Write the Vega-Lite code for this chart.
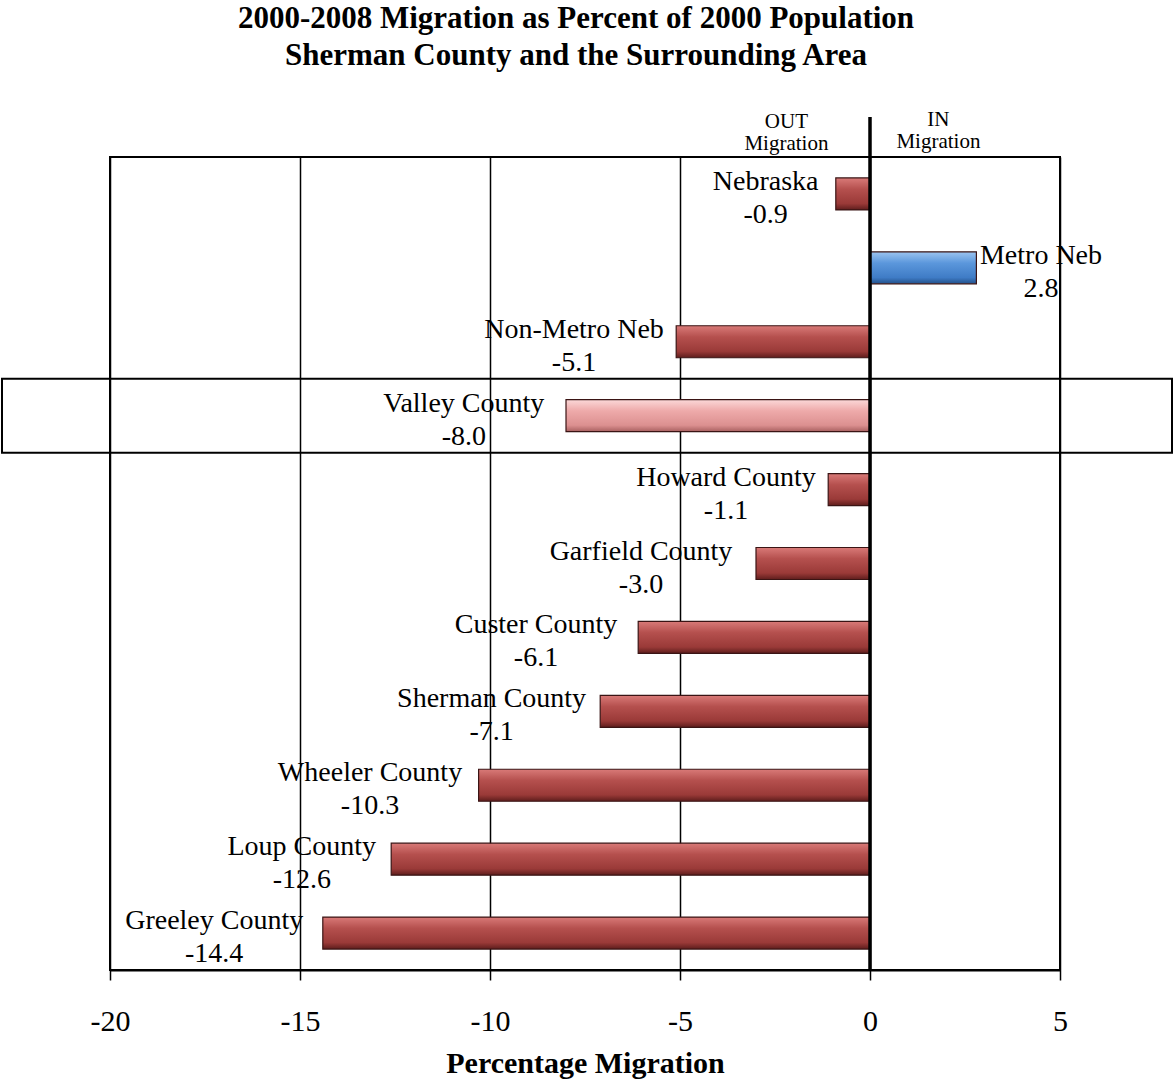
{
  "$schema": "https://vega.github.io/schema/vega-lite/v6.json",
  "autosize": "none",
  "width": 950,
  "height": 813,
  "padding": {"left": 110, "top": 157, "right": 114, "bottom": 112},
  "background": "white",
  "config": {
    "view": {"stroke": "black", "strokeWidth": 2},
    "font": "Liberation Serif",
    "locale": {"number": {"decimal": ".", "thousands": ",", "grouping": [3], "currency": ["$", ""], "minus": "-"}}
  },
  "title": {
    "text": ["2000-2008 Migration  as Percent of 2000 Population", "Sherman County and the Surrounding Area"],
    "font": "Liberation Serif",
    "fontSize": 31,
    "fontWeight": "bold",
    "color": "black",
    "anchor": "middle",
    "dx": -9,
    "offset": 37,
    "lineHeight": 37
  },
  "data": {
    "values": [
      {"name": "Nebraska", "value": -0.9, "group": "out"},
      {"name": "Metro Neb", "value": 2.8, "group": "in"},
      {"name": "Non-Metro Neb", "value": -5.1, "group": "out"},
      {"name": "Valley County", "value": -8.0, "group": "hl"},
      {"name": "Howard County", "value": -1.1, "group": "out"},
      {"name": "Garfield County", "value": -3.0, "group": "out"},
      {"name": "Custer County", "value": -6.1, "group": "out"},
      {"name": "Sherman County", "value": -7.1, "group": "out"},
      {"name": "Wheeler County", "value": -10.3, "group": "out"},
      {"name": "Loup County", "value": -12.6, "group": "out"},
      {"name": "Greeley County", "value": -14.4, "group": "out"}
    ]
  },
  "encoding": {
    "y": {
      "field": "name",
      "type": "nominal",
      "sort": null,
      "axis": null,
      "scale": {"paddingInner": 0, "paddingOuter": 0}
    }
  },
  "layer": [
    {
      "mark": {"type": "bar", "size": 32, "stroke": "#3a1414", "strokeWidth": 1.2},
      "encoding": {
        "x": {
          "field": "value",
          "type": "quantitative",
          "scale": {"domain": [-20, 5], "nice": false, "zero": false},
          "axis": {
            "values": [-20, -15, -10, -5, 0, 5],
            "format": "d",
            "grid": true,
            "gridColor": "black",
            "gridWidth": 1.5,
            "gridOpacity": 1,
            "domainColor": "black",
            "domainWidth": 2,
            "tickColor": "black",
            "tickWidth": 1.5,
            "tickSize": 10,
            "labelFont": "Liberation Serif",
            "labelFontSize": 30,
            "labelColor": "black",
            "labelPadding": 26,
            "labelFlush": false,
            "title": "Percentage Migration",
            "titleFont": "Liberation Serif",
            "titleFontSize": 30,
            "titleFontWeight": "bold",
            "titleColor": "black",
            "titlePadding": 12
          }
        },
        "fill": {
          "condition": [
            {"test": "datum.group === 'in'", "value": {"gradient": "linear", "x1": 0, "y1": 0, "x2": 0, "y2": 1, "stops": [{"offset": 0, "color": "#9cc4f0"}, {"offset": 0.35, "color": "#5b97dc"}, {"offset": 0.8, "color": "#3f7cc6"}, {"offset": 1, "color": "#23518a"}]}},
            {"test": "datum.group === 'hl'", "value": {"gradient": "linear", "x1": 0, "y1": 0, "x2": 0, "y2": 1, "stops": [{"offset": 0, "color": "#fbd8d8"}, {"offset": 0.35, "color": "#eeaaaa"}, {"offset": 0.8, "color": "#dc9090"}, {"offset": 1, "color": "#a86060"}]}}
          ],
          "value": {"gradient": "linear", "x1": 0, "y1": 0, "x2": 0, "y2": 1, "stops": [{"offset": 0, "color": "#d97a78"}, {"offset": 0.35, "color": "#b5504e"}, {"offset": 0.8, "color": "#9a3a38"}, {"offset": 1, "color": "#5e1d1c"}]}
        }
      }
    },
    {
      "mark": {"type": "rect", "x": -108, "x2": 1062, "fill": "transparent", "stroke": "black", "strokeWidth": 2},
      "transform": [{"filter": "datum.group === 'hl'"}],
      "encoding": {}
    },
    {
      "mark": {"type": "rule", "y": -40, "y2": 813, "stroke": "black", "strokeWidth": 3.5},
      "data": {"values": [{"zero": 0}]},
      "encoding": {"x": {"field": "zero", "type": "quantitative"}, "y": null}
    },
    {
      "mark": {"type": "text", "text": ["OUT", "Migration"], "y": -46, "baseline": "top", "align": "center", "fontSize": 21, "lineHeight": 22, "font": "Liberation Serif", "color": "black"},
      "data": {"values": [{"pos": -2.2}]},
      "encoding": {"x": {"field": "pos", "type": "quantitative"}, "y": null}
    },
    {
      "mark": {"type": "text", "text": ["IN", "Migration"], "y": -48, "baseline": "top", "align": "center", "fontSize": 21, "lineHeight": 22, "font": "Liberation Serif", "color": "black"},
      "data": {"values": [{"pos": 1.8}]},
      "encoding": {"x": {"field": "pos", "type": "quantitative"}, "y": null}
    },
    {
      "transform": [{"calculate": "datum.value < 0 ? datum.value - (19 + 6.4 * length(datum.name)) / 38 : datum.value + (7 + 6.4 * length(datum.name)) / 38", "as": "lx"}],
      "mark": {"type": "text", "align": "center", "baseline": "middle", "dy": -12, "fontSize": 28, "font": "Liberation Serif", "color": "black"},
      "encoding": {"x": {"field": "lx", "type": "quantitative"}, "text": {"field": "name"}}
    },
    {
      "transform": [{"calculate": "datum.value < 0 ? datum.value - (19 + 6.4 * length(datum.name)) / 38 : datum.value + (7 + 6.4 * length(datum.name)) / 38", "as": "lx"}],
      "mark": {"type": "text", "align": "center", "baseline": "middle", "dy": 21, "fontSize": 28, "font": "Liberation Serif", "color": "black"},
      "encoding": {"x": {"field": "lx", "type": "quantitative"}, "text": {"field": "value", "format": ".1f"}}
    }
  ]
}
